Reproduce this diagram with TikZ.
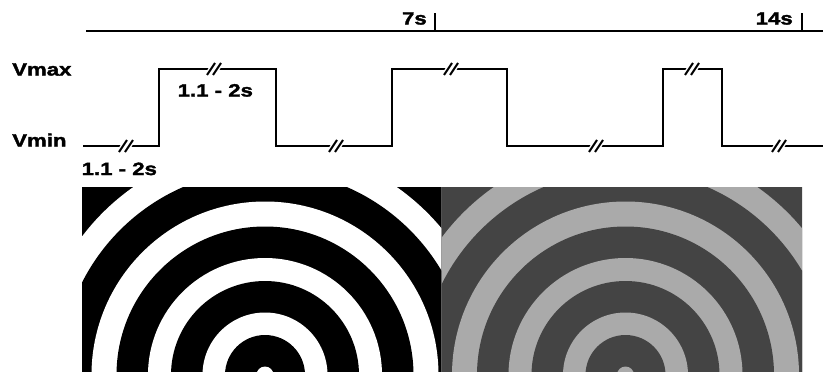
\documentclass[tikz,border=0pt]{standalone}
\usepackage{fontspec}
\newfontfamily\lblfont[FakeStretch=1.25,FakeBold=2]{Liberation Sans}
\definecolor{ringdark}{HTML}{444444}
\definecolor{ringlight}{HTML}{AAAAAA}
\tikzset{
  sig/.style={line width=1.7pt, line join=miter},
  lbl/.style={inner sep=0pt, font=\lblfont\bfseries\fontsize{13.3pt}{16pt}\selectfont},
  tick/.style={line width=1.7pt}
}
\newcommand{\brk}[2]{%
  \fill[white] (#1-10,#2+7) -- (#1-2,#2-7) -- (#1+10,#2-7) -- (#1+2,#2+7) -- cycle;
  \draw[sig] (#1-14,#2) -- (#1-7,#2);
  \draw[sig] (#1+7,#2) -- (#1+14,#2);
  \draw[line width=1.5pt] (#1-7,#2+6) -- (#1+1,#2-6);
  \draw[line width=1.5pt] (#1-1,#2+6) -- (#1+7,#2-6);
}
\begin{document}
\begin{tikzpicture}[x=0.75pt,y=-0.75pt]
\useasboundingbox (0,0) rectangle (823,371);
% time axis
\draw[line width=2pt] (86,31) -- (823,31);
\draw[tick] (435,13) -- (435,31);
\draw[tick] (802,13) -- (802,31);
\node[lbl, anchor=base east] (t7) at (427,24.5) {7s};
\node[lbl, anchor=base east] (t14) at (793,24.5) {14s};
% labels
\node[lbl, anchor=base west] (vmax) at (12,75.5) {Vmax};
\node[lbl, anchor=base west] (vmin) at (12,146.5) {Vmin};
\node[lbl, anchor=base west] (d1) at (177.5,96.5) {1.1 - 2s};
\node[lbl, anchor=base west] (d2) at (81.5,175) {1.1 - 2s};
% signal
\draw[sig] (83,146) -- (159,146) -- (159,69) -- (276,69) -- (276,146) -- (392,146)
  -- (392,69) -- (507,69) -- (507,146) -- (663,146) -- (663,69) -- (722,69)
  -- (722,146) -- (823,146);
\brk{126}{146}
\brk{214}{69}
\brk{336}{146}
\brk{451}{69}
\brk{596}{146}
\brk{692}{69}
\brk{779}{146}
% left rings
\begin{scope}
\clip (82,187) rectangle (441.5,371);
\foreach \r/\c in {300/black,229.5/white,205/black,173.5/white,148.5/black,117/white,94/black,62.5/white,40/black,8.5/white}
  \fill[\c] (265,375) circle[radius=\r];
\end{scope}
% right rings
\begin{scope}
\clip (441.5,187) rectangle (802,371);
\foreach \r/\c in {300/ringdark,229.5/ringlight,205/ringdark,173.5/ringlight,148.5/ringdark,117/ringlight,94/ringdark,62.5/ringlight,40/ringdark,8.5/ringlight}
  \fill[\c] (625.5,375) circle[radius=\r];
\end{scope}
\end{tikzpicture}
\end{document}
